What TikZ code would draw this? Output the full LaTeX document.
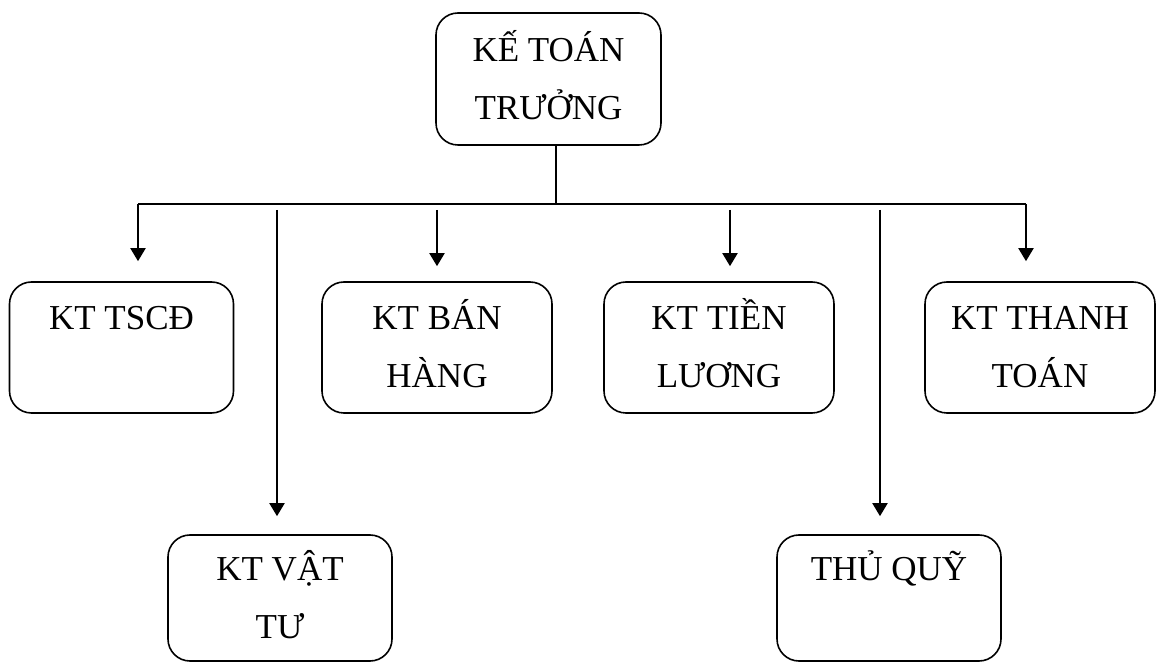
\documentclass[tikz,border=0pt]{standalone}
\usepackage{fontspec}
\setmainfont{Liberation Serif}
\usepackage{tikz}
\usetikzlibrary{arrows.meta,positioning}

% keeps both lines of a box at the same height
\newcommand\boxstrut{\rule[-8pt]{0pt}{27.5pt}}
\newcommand\boxtext[2]{\boxstrut#1\\\boxstrut#2}

\begin{document}
\begin{tikzpicture}[x=0.5pt,y=-0.5pt,
  unit/.style={draw=black,line width=0.8pt,rounded corners=11pt,
    minimum width=115pt,minimum height=65.5pt,inner sep=0pt,
    align=center,font=\fontsize{17.5}{29}\selectfont},
  lowunit/.style={unit,minimum width=112pt,minimum height=63pt},
  link/.style={line width=1pt},
  down/.style={link,-{Triangle[length=6.5pt,width=7.5pt]}}]
\useasboundingbox (0,0) rectangle (1163,662);

% head of the department
\node[unit,minimum width=112.5pt,minimum height=66pt] (boss) at (548.5,79) {\boxtext{KẾ TOÁN}{TRƯỞNG}};

% accountants, first row
\node[unit,minimum width=112pt] (tscd) at (121.5,347.5) {\boxtext{KT TSCĐ}{}};
\node[unit] (banhang) at (437,347.5) {\boxtext{KT BÁN}{HÀNG}};
\node[unit] (tienluong) at (719,347.5) {\boxtext{KT TIỀN}{LƯƠNG}};
\node[unit] (thanhtoan) at (1040,347.5) {\boxtext{KT THANH}{TOÁN}};

% second row
\node[lowunit] (vattu) at (280,598) {\boxtext{KT VẬT}{TƯ}};
\node[lowunit] (thuquy) at (889,598) {\boxtext{THỦ QUỸ}{}};

% bus under the head
\coordinate (hub) at (556,204);
\coordinate (busL) at (138,204);
\coordinate (busR) at (1026,204);
\draw[link] (boss.south -| hub) -- (hub);
\draw[link] (busL) -- (busR);

% drops to every box
\draw[down,shorten >=10pt] (busL) -- (busL |- tscd.north);
\draw[down,shorten >=10pt] (busR) -- (busR |- thanhtoan.north);
\coordinate (d1) at (277,204);
\coordinate (d2) at (437,204);
\coordinate (d3) at (730,204);
\coordinate (d4) at (880,204);
\draw[down,shorten <=3pt,shorten >=7.5pt] (d2) -- (d2 |- banhang.north);
\draw[down,shorten <=3pt,shorten >=7.5pt] (d3) -- (d3 |- tienluong.north);
\draw[down,shorten <=3pt,shorten >=9pt] (d1) -- (d1 |- vattu.north);
\draw[down,shorten <=3pt,shorten >=9pt] (d4) -- (d4 |- thuquy.north);
\end{tikzpicture}
\end{document}
